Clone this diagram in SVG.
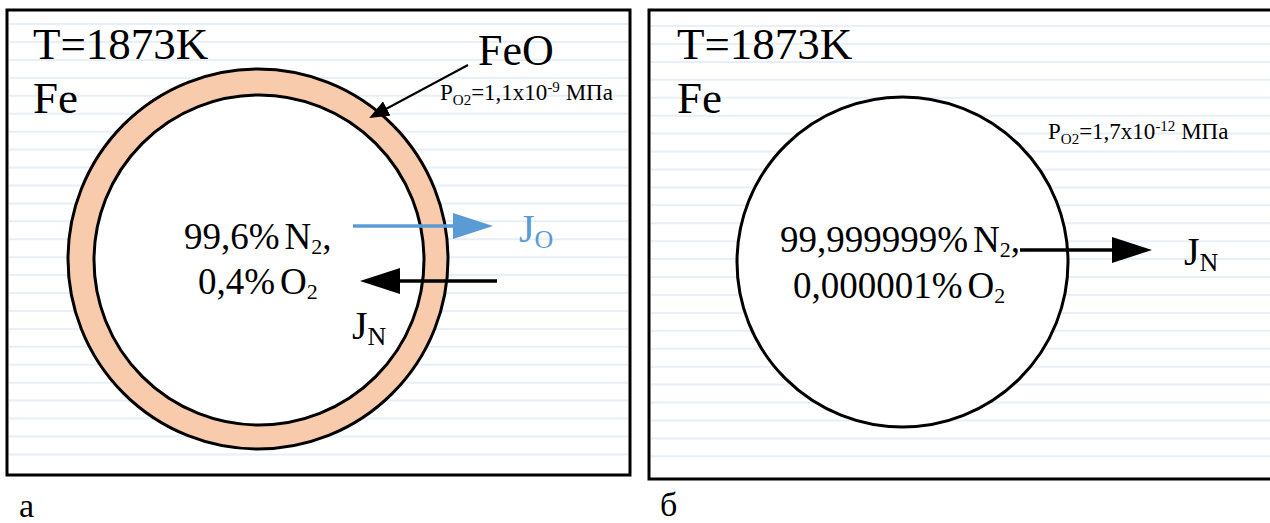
<svg xmlns="http://www.w3.org/2000/svg" width="1270" height="523" viewBox="0 0 1270 523" font-family="'Times New Roman', 'Liberation Serif', 'DejaVu Serif', serif">
<style>
  text { font-family: "Times New Roman", "Liberation Serif", "DejaVu Serif", serif; fill: #000; }
  .panel { fill: #ffffff; stroke: #000; stroke-width: 3; }
  .rules { fill: none; stroke: #e8eff8; stroke-width: 2; }
  .ring { fill: #f8cbad; stroke: #000; stroke-width: 3; }
  .hole { fill: #ffffff; stroke: #000; stroke-width: 3; }
  .big { font-size: 45px; }
  .mix { font-size: 37px; }
  .j { font-size: 40px; }
  .p { font-size: 23px; }
  .cap { font-size: 34px; }
  .arr { fill: none; stroke: #000; stroke-width: 3.5; }
  .arr-blue { fill: none; stroke: #5b9bd5; stroke-width: 3.5; }
  .ptr { fill: none; stroke: #000; stroke-width: 2; }
</style>
<defs>
  <marker id="headBlack" markerUnits="userSpaceOnUse" markerWidth="40" markerHeight="26" refX="4" refY="13" orient="auto">
    <path d="M0,0 L40,13 L0,26 z" fill="#000"/>
  </marker>
  <marker id="headBlue" markerUnits="userSpaceOnUse" markerWidth="40" markerHeight="26" refX="4" refY="13" orient="auto">
    <path d="M0,0 L40,13 L0,26 z" fill="#5b9bd5"/>
  </marker>
  <marker id="headSmall" markerUnits="userSpaceOnUse" markerWidth="20" markerHeight="16" refX="2" refY="8" orient="auto">
    <path d="M0,0 L20,8 L0,16 z" fill="#000"/>
  </marker>
</defs>

<!-- Panel a -->
<g id="panel-a">
  <rect class="panel" x="7" y="10" width="623" height="465"/>
  <path class="rules" d="M9,24.1H628 M9,42H628 M9,59.9H628 M9,77.9H628 M9,95.8H628 M9,113.7H628 M9,131.7H628 M9,149.6H628 M9,167.5H628 M9,185.5H628 M9,203.4H628 M9,221.3H628 M9,239.2H628 M9,257.2H628 M9,275.1H628 M9,293H628 M9,311H628 M9,328.9H628 M9,346.8H628 M9,364.8H628 M9,382.7H628 M9,400.6H628 M9,418.5H628 M9,436.5H628 M9,454.4H628"/>
  <text class="big" x="33" y="59">T=1873K</text>
  <text class="big" x="33" y="113">Fe</text>
</g>
<g id="feo-shell">
  <circle class="ring" cx="258" cy="259" r="190"/>
  <circle class="hole" cx="259" cy="260" r="165"/>
  <text class="big" x="478" y="65" style="font-size:44px">FeO</text>
  <text class="p" x="440" y="100">P<tspan font-size="15" dy="5">O2</tspan><tspan dy="-5">=1,1x10</tspan><tspan font-size="15" dy="-8">-9</tspan><tspan dy="8"> МПа</tspan></text>
</g>
<g id="gas-a">
  <text class="mix" x="184" y="249">99,6%<tspan dx="5">N</tspan><tspan font-size="22" dy="5">2</tspan><tspan dy="-5">,</tspan></text>
  <text class="mix" x="198" y="294">0,4%<tspan dx="5">O</tspan><tspan font-size="22" dy="5">2</tspan></text>
</g>
<g id="label-jo">
  <text class="j" x="519" y="242" style="fill:#5b9bd5">J<tspan font-size="26" dy="6" style="fill:#5b9bd5">O</tspan></text>
</g>
<g id="label-jn-a">
  <text class="j" x="352" y="339">J<tspan font-size="26" dy="6">N</tspan></text>
</g>
<text class="cap" x="19" y="517">а</text>

<!-- Panel b -->
<g id="panel-b">
  <rect class="panel" x="649" y="10" width="640" height="469"/>
  <path class="rules" d="M651,26H1270 M651,43.9H1270 M651,61.9H1270 M651,79.8H1270 M651,97.7H1270 M651,115.7H1270 M651,133.6H1270 M651,151.5H1270 M651,169.4H1270 M651,187.4H1270 M651,205.3H1270 M651,223.2H1270 M651,241.2H1270 M651,259.1H1270 M651,277H1270 M651,295H1270 M651,312.9H1270 M651,330.8H1270 M651,348.7H1270 M651,366.7H1270 M651,384.6H1270 M651,402.5H1270 M651,420.5H1270 M651,438.4H1270 M651,456.3H1270"/>
  <text class="big" x="677" y="59">T=1873K</text>
  <text class="big" x="677" y="113">Fe</text>
  <text class="p" x="1048" y="139">P<tspan font-size="15" dy="5">O2</tspan><tspan dy="-5">=1,7x10</tspan><tspan font-size="15" dy="-8">-12</tspan><tspan dy="8"> МПа</tspan></text>
</g>
<g id="bubble-b">
  <ellipse class="hole" cx="902.5" cy="262" rx="165.5" ry="165"/>
  <text class="mix" x="780" y="252">99,999999%<tspan dx="5">N</tspan><tspan font-size="22" dy="5">2</tspan><tspan dy="-5">,</tspan></text>
  <text class="mix" x="793" y="298">0,000001%<tspan dx="5">O</tspan><tspan font-size="22" dy="5">2</tspan></text>
</g>
<g id="label-jn-b">
  <text class="j" x="1184" y="265">J<tspan font-size="26" dy="6">N</tspan></text>
</g>
<text class="cap" x="660" y="516">б</text>

<!-- Connectors -->
<g id="connectors">
  <line class="ptr" x1="468" y1="65" x2="385" y2="109.5" marker-end="url(#headSmall)"/>
  <line class="arr-blue" x1="353" y1="226" x2="457" y2="226" marker-end="url(#headBlue)"/>
  <line class="arr" x1="497" y1="281" x2="396" y2="281" marker-end="url(#headBlack)"/>
  <line class="arr" x1="1020" y1="250" x2="1116" y2="250" marker-end="url(#headBlack)"/>
</g>
</svg>
